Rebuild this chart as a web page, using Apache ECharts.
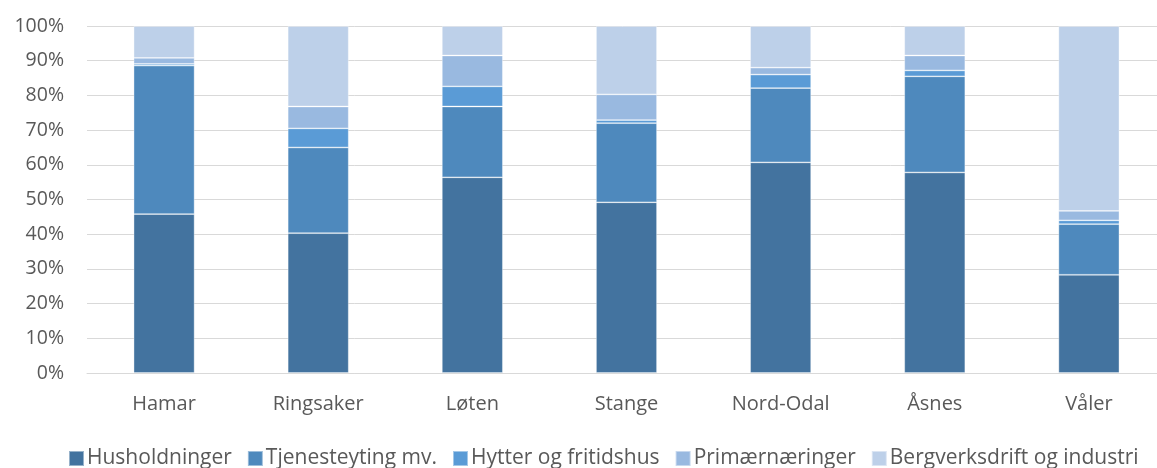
<!DOCTYPE html>
<html>
<head>
<meta charset="utf-8">
<script src="https://cdn.jsdelivr.net/npm/echarts@6/dist/echarts.min.js"></script>
<style>
  html, body { margin: 0; padding: 0; background: #ffffff; }
  #chart { width: 1157px; height: 468px; }
</style>
</head>
<body>
<div id="chart"></div>
<script>
// Municipalities on the x axis
const categories = ['Hamar', 'Ringsaker', 'Løten', 'Stange', 'Nord-Odal', 'Åsnes', 'Våler'];

// Share per sector (percent of total), one array per stacked series
const husholdninger = [45.8, 40.3, 56.4, 49.2, 60.7, 57.8, 28.3];
const tjenesteyting = [42.8, 24.7, 20.4, 22.8, 21.4, 27.7, 14.6];
const hytter        = [0.5, 5.5, 5.8, 0.9, 3.9, 1.7, 1.1];
const primaer       = [1.7, 6.3, 8.9, 7.4, 2.0, 4.3, 2.7];
const bergverk      = [9.2, 23.2, 8.5, 19.7, 12.0, 8.5, 53.3];

const seriesDefs = [
  { name: 'Husholdninger', data: husholdninger, color: '#43739F' },
  { name: 'Tjenesteyting mv.', data: tjenesteyting, color: '#4E89BD' },
  { name: 'Hytter og fritidshus', data: hytter, color: '#5A9BD6' },
  { name: 'Primærnæringer', data: primaer, color: '#99B9E0' },
  { name: 'Bergverksdrift og industri', data: bergverk, color: '#BDD0E9' }
];

const font = 'Open Sans, Lato, sans-serif';
const textColor = '#595959';

const chart = echarts.init(document.getElementById('chart'), null, { renderer: 'canvas' });
chart.setOption({
  animation: false,
  backgroundColor: '#ffffff',
  // the plot area runs a little past the right edge of the canvas
  grid: { left: 87, top: 26, right: -9, bottom: 95, containLabel: false, outerBoundsMode: 'none' },
  legend: {
    top: 443,
    left: 63,
    itemWidth: 15,
    itemHeight: 15,
    itemGap: 15,
    icon: 'rect',
    textStyle: { fontFamily: font, fontSize: 21, color: textColor, padding: [0, 0, 0, -2] },
    data: seriesDefs.map(s => s.name)
  },
  xAxis: {
    type: 'category',
    data: categories,
    axisTick: { show: false },
    axisLine: { lineStyle: { color: '#D9D9D9', width: 1 } },
    axisLabel: { fontFamily: font, fontSize: 20, color: textColor, margin: 21 }
  },
  yAxis: {
    type: 'value',
    min: 0,
    max: 100,
    interval: 10,
    axisLine: { show: false },
    axisTick: { show: false },
    splitLine: { lineStyle: { color: '#D9D9D9', width: 1 } },
    axisLabel: { fontFamily: font, fontSize: 19.5, color: textColor, margin: 23, formatter: '{value}%' }
  },
  series: seriesDefs.map(s => ({
    name: s.name,
    type: 'bar',
    stack: 'total',
    data: s.data,
    barWidth: 61,
    itemStyle: { color: s.color, borderColor: 'rgba(255,255,255,0.45)', borderWidth: 0.8 },
    emphasis: { disabled: true }
  }))
});
</script>
</body>
</html>
